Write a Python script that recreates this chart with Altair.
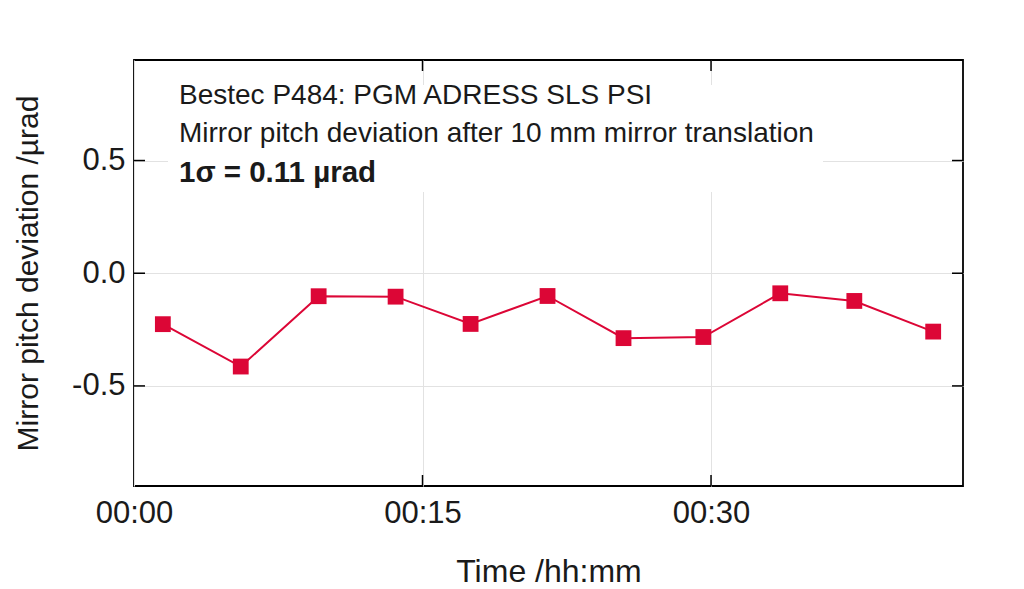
import altair as alt
import pandas as pd

# data
minutes = [1.5, 5.55, 9.6, 13.6, 17.5, 21.5, 25.45, 29.6, 33.6, 37.45, 41.55]
deviation = [-0.226, -0.414, -0.102, -0.104, -0.225, -0.101, -0.288, -0.283, -0.089, -0.123, -0.259]
x_ticks = [15, 30]
x_labels_at = [0, 15, 30]
y_ticks = [-0.5, 0.0, 0.5]
notes = ["Bestec P484: PGM ADRESS SLS PSI",
         "Mirror pitch deviation after 10 mm mirror translation",
         "1σ = 0.11 µrad"]
note_bold = [False, False, True]

FONT = "Liberation Sans"
RED = "#DC0636"
TXT = "#1a1a1a"
W, H = 829, 426
XDOM = [0, 43.1]
YDOM = [-0.944, 0.946]

df = pd.DataFrame({"t": minutes, "v": deviation})

xscale = alt.Scale(domain=XDOM, nice=False, zero=False)
yscale = alt.Scale(domain=YDOM, nice=False, zero=False)

x_enc = alt.X("t:Q", scale=xscale, axis=alt.Axis(
    values=x_labels_at, title="Time /hh:mm", grid=True, labelFlush=False,
    labelExpr="'00:' + (datum.value < 10 ? '0' : '') + datum.value",
    ticks=False, domain=False, labelPadding=12, titleFontSize=32,
    titleBaseline="alphabetic", titleX=W / 2, titleY=95))
y_enc = alt.Y("v:Q", scale=yscale, axis=alt.Axis(
    values=y_ticks, title="Mirror pitch deviation /µrad", grid=True,
    labelExpr="(datum.value < 0 ? '-' : '') + format(abs(datum.value), '.1f')",
    ticks=False, domain=False, labelPadding=9, titleFontSize=30,
    titleBaseline="alphabetic", titleX=-97, titleY=H / 2))

base = alt.Chart(df)

line = base.mark_line(color=RED, strokeWidth=2).encode(x=x_enc, y=y_enc)
pts = base.mark_point(shape="square", filled=True, opacity=1, color=RED, size=250).encode(
    x="t:Q", y="v:Q")

# white box behind the annotation (hides grid lines there)
box = alt.Chart(pd.DataFrame({"a": [0]})).mark_rect(color="white").encode(
    x=alt.value(34), x2=alt.value(689), y=alt.value(25), y2=alt.value(132))

# inward ticks
xt = pd.DataFrame({"t": x_ticks})
yt = pd.DataFrame({"v": y_ticks})
tick_bottom = alt.Chart(xt).mark_rule(color="black", strokeWidth=1.5).encode(
    x=alt.X("t:Q", scale=xscale), y=alt.value(H), y2=alt.value(H - 11))
tick_top = alt.Chart(xt).mark_rule(color="black", strokeWidth=1.5).encode(
    x=alt.X("t:Q", scale=xscale), y=alt.value(0), y2=alt.value(11))
tick_left = alt.Chart(yt).mark_rule(color="black", strokeWidth=1.5).encode(
    y=alt.Y("v:Q", scale=yscale), x=alt.value(0), x2=alt.value(11))
tick_right = alt.Chart(yt).mark_rule(color="black", strokeWidth=1.5).encode(
    y=alt.Y("v:Q", scale=yscale), x=alt.value(W), x2=alt.value(W - 11))

ndf = pd.DataFrame({"txt": notes, "i": [0, 1, 2], "b": note_bold})
note_layers = []
for i, (t, b) in enumerate(zip(notes, note_bold)):
    note_layers.append(
        alt.Chart(ndf[ndf.i == i]).mark_text(
            align="left", baseline="alphabetic", font=FONT,
            fontSize=29.5 if b else 28, fontWeight="bold" if b else "normal", color=TXT
        ).encode(text="txt:N", x=alt.value(45), y=alt.value([43.5, 82, 121.5][i]))
    )

chart = alt.layer(box, line, pts, tick_bottom, tick_top, tick_left, tick_right, *note_layers).properties(
    width=W, height=H,
    autosize=alt.AutoSizeParams(type="none"),
    padding={"left": 126, "top": 52, "right": 53, "bottom": 103},
).configure_view(
    stroke="black", strokeWidth=1.8
).configure_axis(
    labelFont=FONT, titleFont=FONT, labelFontSize=31,
    labelColor=TXT, titleColor=TXT, labelFontWeight="normal",
    titleFontWeight="normal", gridColor="#e2e2e2", gridWidth=1
)

chart.save("out.html", embed_options={"renderer": "svg", "actions": False})
